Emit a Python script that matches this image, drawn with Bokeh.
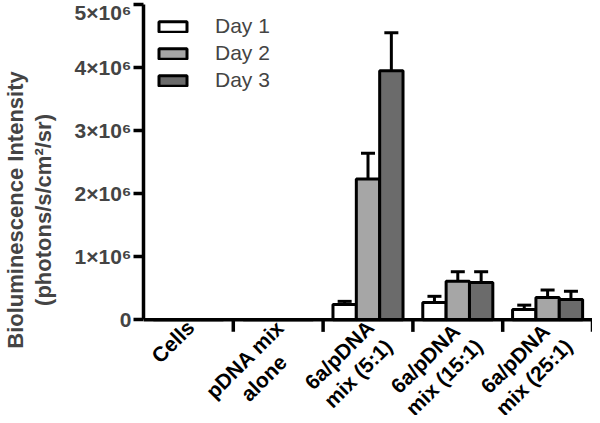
import numpy as np
from bokeh.plotting import figure
from bokeh.models import (ColumnDataSource, FixedTicker, Range1d, Whisker, TeeHead, Legend,
                          LegendItem, Label, Span)
from bokeh.embed import file_html
from bokeh.resources import INLINE

# ---- data ----
categories = ["Cells", "pDNA mix\nalone", "6a/pDNA\nmix (5:1)", "6a/pDNA\nmix (15:1)", "6a/pDNA\nmix (25:1)"]
series_names = ["Day 1", "Day 2", "Day 3"]
day1 = [0, 0, 0.24e6, 0.27e6, 0.16e6]
day1_err = [0, 0, 0.05e6, 0.10e6, 0.07e6]
day2 = [0, 0, 2.23e6, 0.61e6, 0.35e6]
day2_err = [0, 0, 0.41e6, 0.15e6, 0.12e6]
day3 = [0, 0, 3.95e6, 0.59e6, 0.32e6]
day3_err = [0, 0, 0.60e6, 0.17e6, 0.13e6]
colors = ["#ffffff", "#a6a6a6", "#6b6b6b"]
y_ticks = [0, 1e6, 2e6, 3e6, 4e6, 5e6]
y_tick_labels = ["0", "1×10⁶", "2×10⁶", "3×10⁶", "4×10⁶", "5×10⁶"]

FONT = "Liberation Sans"
bar_w = 0.26
offsets = [-bar_w, 0.0, bar_w]

# layout: value axis spans 309 px; the frame continues 94 px below zero for the category labels
VAL_PX = 309
BELOW_PX = 94
Y_MAX = 5e6
Y_MIN = -Y_MAX * BELOW_PX / VAL_PX
TICK_LEN = 12 * Y_MAX / VAL_PX

p = figure(width=592, height=415, output_backend="svg", toolbar_location=None,
           x_range=Range1d(0, len(categories)), y_range=Range1d(Y_MIN, Y_MAX),
           x_axis_location=None,
           min_border_left=135, min_border_right=0, min_border_top=4, min_border_bottom=0)
p.outline_line_color = None
p.xgrid.grid_line_color = None
p.ygrid.grid_line_color = None
p.background_fill_color = "white"

centers = np.arange(len(categories)) + 0.5
vals = [day1, day2, day3]
errs = [day1_err, day2_err, day3_err]
items = []
for k in range(3):
    v = np.array(vals[k], dtype=float)
    e = np.array(errs[k], dtype=float)
    src = ColumnDataSource(dict(x=centers + offsets[k], top=v, upper=v + e))
    r = p.vbar(x="x", top="top", bottom=0, width=bar_w, source=src,
               fill_color=colors[k], line_color="black", line_width=3)
    mask = e > 0
    wsrc = ColumnDataSource(dict(x=(centers + offsets[k])[mask], lower=v[mask], upper=(v + e)[mask]))
    w = Whisker(base="x", lower="lower", upper="upper", source=wsrc, dimension="height",
                line_color="black", line_width=3, lower_head=None,
                upper_head=TeeHead(size=14, line_color="black", line_width=3), level="glyph")
    p.add_layout(w)
    items.append(LegendItem(label=series_names[k], renderers=[r]))

# category axis line at zero with boundary ticks
p.add_layout(Span(location=0, dimension="width", line_color="black", line_width=3.5))
bounds_x = np.arange(1, len(categories) + 1)
p.segment(x0=bounds_x, y0=np.zeros(len(bounds_x)), x1=bounds_x, y1=np.full(len(bounds_x), -TICK_LEN),
          line_color="black", line_width=3.5)

legend = Legend(items=items, location=(12, VAL_PX + BELOW_PX - 80), glyph_width=35, glyph_height=13,
                label_text_font_size="21px", label_text_font=FONT, label_standoff=25,
                spacing=3, padding=0, margin=0, border_line_color=None,
                background_fill_alpha=0)
p.add_layout(legend, "center")

# y axis
ya = p.yaxis[0]
ya.bounds = (0, Y_MAX)
ya.ticker = FixedTicker(ticks=y_ticks)
ya.major_label_overrides = {t: l for t, l in zip(y_ticks, y_tick_labels)}
ya.minor_tick_line_color = None
ya.major_tick_in = 0
ya.major_tick_out = 10
ya.major_tick_line_width = 3.5
ya.axis_line_width = 3.5
ya.axis_line_color = "black"
ya.major_label_text_font = FONT
ya.major_label_text_font_style = "bold"
ya.major_label_text_font_size = "21px"
ya.major_label_standoff = 2
ya.axis_label = "Bioluminescence Intensity\n(photons/s/cm²/sr)"
ya.axis_label_text_font = FONT
ya.axis_label_text_font_style = "bold"
ya.axis_label_text_font_size = "22px"
ya.axis_label_text_line_height = 1.1
ya.axis_label_standoff = 16

for c, lab in zip(centers, categories):
    p.add_layout(Label(x=float(c), y=0, x_units="data", y_units="data", text=lab,
                       angle=np.pi / 4, text_align="center", anchor="top_right",
                       x_offset=-6, y_offset=4, level="overlay",
                       text_font=FONT, text_font_style="bold", text_font_size="21px",
                       text_line_height=1.15, text_color="black"))

open("out.html", "w").write(file_html(p, INLINE))
